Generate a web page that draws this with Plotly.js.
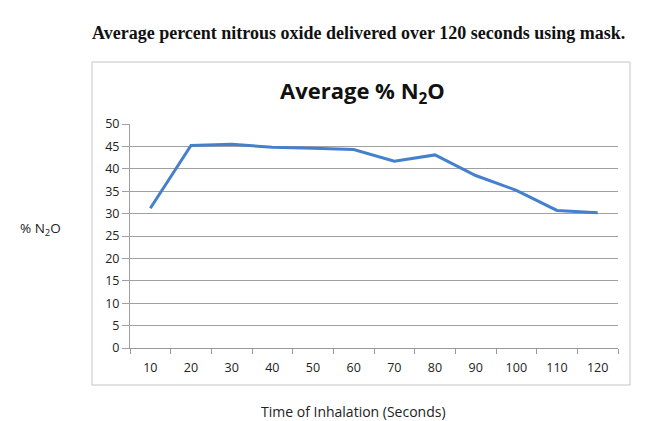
<!DOCTYPE html>
<html><head><meta charset="utf-8">
<script src="https://cdn.plot.ly/plotly-3.0.1.min.js"></script>
<style>html,body{margin:0;padding:0;background:#fff}#c{width:654px;height:421px}</style>
</head><body><div id="c"></div>
<script>
var timeLabels = ["10","20","30","40","50","60","70","80","90","100","110","120"];
var avgN2O = [31.2, 45.2, 45.5, 44.8, 44.6, 44.3, 41.7, 43.1, 38.5, 35.2, 30.7, 30.2];
var yTicks = [0,5,10,15,20,25,30,35,40,45,50];

var L=130, R=618, T=124, B=348, W=654, H=421;
function px(x){return (x-L)/(R-L);}
function py(y){return (B-y)/(B-T);}

var trace = {x: timeLabels, y: avgN2O, type:'scatter', mode:'lines',
  line:{color:'#4580cc', width:3}, hoverinfo:'skip'};

var layout = {
  width:W, height:H, margin:{l:L, r:W-R, t:T, b:H-B},
  paper_bgcolor:'#fff', plot_bgcolor:'#fff', showlegend:false,
  font:{family:'Open Sans, sans-serif', size:12, color:'#222'},
  xaxis:{type:'category', range:[-0.5, timeLabels.length-0.5], tickson:'boundaries', ticks:'outside', ticklen:5, tickcolor:'#999',
    ticklabelstandoff:8,
    showline:true, linecolor:'#999', linewidth:1, showgrid:false, zeroline:false,
    tickfont:{family:'Open Sans, sans-serif', size:12.5, color:'#222'}, fixedrange:true},
  yaxis:{range:[0,50], tickvals:yTicks, ticktext:yTicks.map(String), ticks:'outside', ticklen:7, tickcolor:'#a0a0a0',
    showline:true, linecolor:'#a0a0a0', linewidth:1, showgrid:true, gridcolor:'#a0a0a0', gridwidth:1,
    zeroline:false, tickfont:{family:'Open Sans, sans-serif', size:12.5, color:'#222'}, fixedrange:true},
  shapes:[
    {type:'rect', xref:'paper', yref:'paper', x0:px(92), x1:px(630), y0:py(385), y1:py(62),
     line:{color:'#c4c4c4', width:1}, fillcolor:'rgba(0,0,0,0)', layer:'below'}
  ],
  annotations:[
    {text:'<b>Average percent nitrous oxide delivered over 120 seconds using mask.</b>', xref:'paper', yref:'paper',
     x:px(358), y:py(33), showarrow:false, xanchor:'center', yanchor:'middle',
     font:{family:'Liberation Serif, Times New Roman, serif', size:18, color:'#111'}},
    {text:'<b>Average % N<sub>2</sub>O</b>', xref:'paper', yref:'paper',
     x:px(362), y:py(92), showarrow:false, xanchor:'center', yanchor:'middle',
     font:{family:'Open Sans, sans-serif', size:22, color:'#111'}},
    {text:'% N<sub>2</sub>O', xref:'paper', yref:'paper',
     x:px(18), y:py(229), showarrow:false, xanchor:'left', yanchor:'middle',
     font:{family:'Open Sans, sans-serif', size:13.5, color:'#222'}},
    {text:'Time of Inhalation (Seconds)', xref:'paper', yref:'paper',
     x:px(353), y:py(411), showarrow:false, xanchor:'center', yanchor:'middle',
     font:{family:'Open Sans, sans-serif', size:14, color:'#222'}}
  ]
};
Plotly.newPlot('c', [trace], layout, {staticPlot:true, displayModeBar:false});
</script></body></html>
